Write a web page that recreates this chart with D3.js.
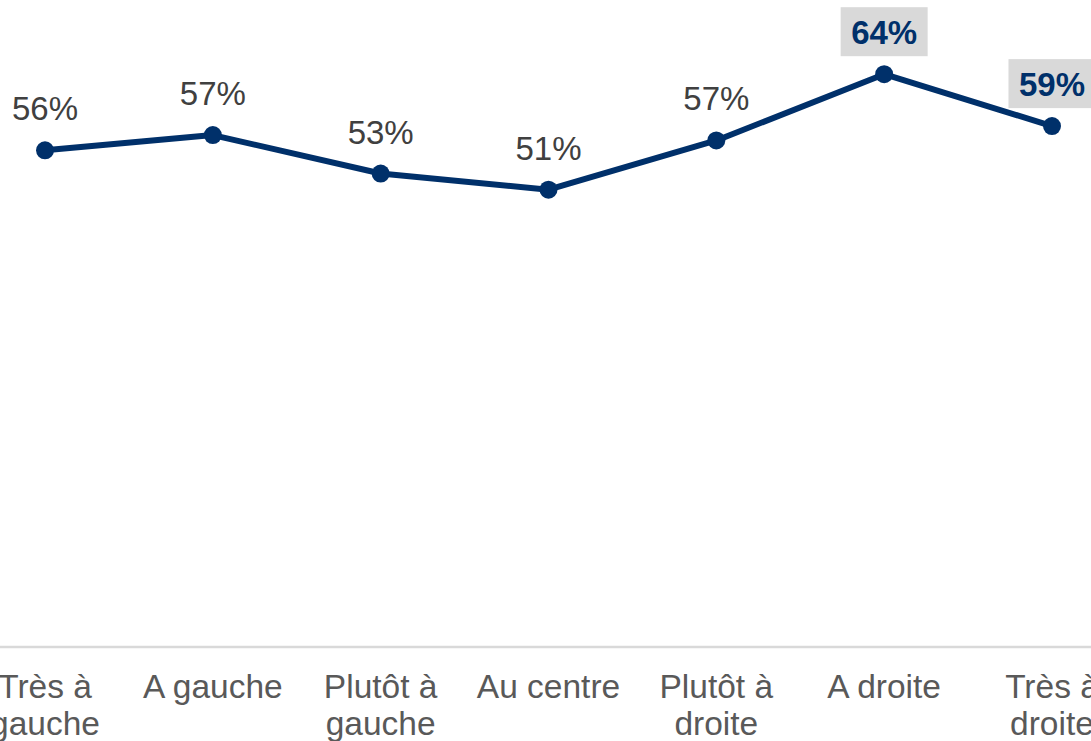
<!DOCTYPE html>
<html>
<head>
<meta charset="utf-8">
<script src="https://cdn.jsdelivr.net/npm/d3@7"></script>
<style>
  body { margin: 0; background: #fff; }
  svg { display: block; font-family: "Liberation Sans", Arial, sans-serif; }
</style>
</head>
<body>
<div id="chart"></div>
<script>
const categories = ["Très à gauche", "A gauche", "Plutôt à gauche", "Au centre", "Plutôt à droite", "A droite", "Très à droite"]
const values = [55.5, 57.2, 52.9, 51.1, 56.6, 64.0, 58.2]
const valueLabels = ["56%", "57%", "53%", "51%", "57%", "64%", "59%"]
const highlighted = [false, false, false, false, false, true, true]

const width = 1091
const height = 741
const navy = "#00306a"

const svg = d3.select("#chart")
  .append("svg")
  .attr("width", width)
  .attr("height", height)

const x = d3.scaleBand()
  .domain(categories)
  .range([-38.9, 1135.9])
  .padding(0)

const y = d3.scaleLinear()
  .domain([0, 72])
  .range([647, 2.6])

const cx = d => x(d) + x.bandwidth() / 2

// axis baseline
svg.append("line")
  .attr("x1", 0)
  .attr("x2", width)
  .attr("y1", y(0))
  .attr("y2", y(0))
  .attr("stroke", "#d9d9d9")
  .attr("stroke-width", 2.5)

// category labels, wrapped
const wrap = (text, maxWidth) => {
  text.each(function () {
    const t = d3.select(this)
    const words = t.text().split(" ")
    const lines = []
    let line = []
    t.text(null)
    const probe = t.append("tspan")
    words.forEach(w => {
      line.push(w)
      probe.text(line.join(" "))
      if (probe.node().getComputedTextLength() > maxWidth && line.length > 1) {
        line.pop()
        lines.push(line.join(" "))
        line = [w]
      }
    })
    lines.push(line.join(" "))
    probe.remove()
    lines.forEach((l, i) => {
      t.append("tspan")
        .attr("x", t.attr("x"))
        .attr("dy", i === 0 ? 0 : 37)
        .text(l)
    })
  })
}

svg.append("g")
  .selectAll("text")
  .data(categories)
  .join("text")
    .attr("x", cx)
    .attr("y", 698)
    .attr("text-anchor", "middle")
    .attr("font-size", 33.5)
    .attr("fill", "#595959")
    .text(d => d)
    .call(wrap, 155)

// line
const line = d3.line()
  .x((d, i) => cx(categories[i]))
  .y(d => y(d))

svg.append("path")
  .datum(values)
  .attr("d", line)
  .attr("fill", "none")
  .attr("stroke", navy)
  .attr("stroke-width", 6)
  .attr("stroke-linejoin", "round")

svg.append("g")
  .selectAll("circle")
  .data(values)
  .join("circle")
    .attr("cx", (d, i) => cx(categories[i]))
    .attr("cy", d => y(d))
    .attr("r", 9)
    .attr("fill", navy)

// data labels
const labels = svg.append("g")
  .selectAll("g")
  .data(values)
  .join("g")
    .attr("transform", (d, i) => `translate(${cx(categories[i])},${y(d) - 30})`)

labels.filter((d, i) => highlighted[i])
  .append("rect")
    .attr("x", -43.5)
    .attr("y", -37)
    .attr("width", 87)
    .attr("height", 49)
    .attr("fill", "#d9d9d9")

labels.append("text")
  .attr("text-anchor", "middle")
  .attr("font-size", 33)
  .attr("font-weight", (d, i) => highlighted[i] ? "bold" : "normal")
  .attr("fill", (d, i) => highlighted[i] ? navy : "#404040")
  .text((d, i) => valueLabels[i])
</script>
</body>
</html>
